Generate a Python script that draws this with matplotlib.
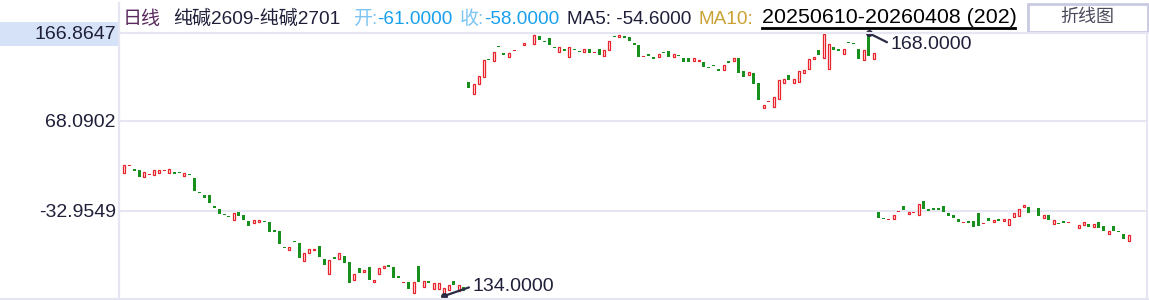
import matplotlib
matplotlib.use("Agg")
import matplotlib.pyplot as plt
from matplotlib.patches import Rectangle
from matplotlib.lines import Line2D
import numpy as np

plt.rcParams['font.family'] = ['Liberation Sans', 'Noto Sans CJK SC', 'DejaVu Sans']

# spread 纯碱2609-纯碱2701, daily bars, open / close only
opens = [
    # first block
    9.8, 17.6, 13.4, 12.8, 4.6, 7.5, 7.5, 9.8, 12.0, 9.8,
    10.2, 9.6, 6.4, 7.7, 3.8, -12.9, -15.6, -15.3, -27.7, -31.0,
    -37.6, -39.9, -43.1, -34.4, -37.8, -44.2, -47.1, -45.3, -45.2, -45.7,
    -54.7, -55.8, -74.7, -76.8, -67.7, -69.3, -89.2, -80.9, -77.2, -72.7,
    -87.3, -104.5, -85.0, -86.9, -83.9, -90.7, -111.2, -97.4, -102.2, -96.3,
    -112.8, -104.5, -97.7, -94.0, -96.3, -106.4, -114.0, -113.1, -125.9, -95.2,
    -119.1, -112.0, -121.4, -121.4, -128.9, -122.5, -112.0, -123.6, -119.1,
    # second block
    111.8, 97.9, 109.2, 117.7, 137.3, 135.4, 152.0, 144.4, 139.5, 146.5,
    148.4, 153.0, 158.5, 154.8, 163.5, 156.9, 160.9, 150.2, 145.2, 148.9,
    139.5, 147.9, 145.7, 145.2, 148.9, 144.7, 148.5, 140.7, 147.4, 162.5,
    162.0, 163.5, 162.0, 156.0, 153.4, 140.2, 143.6, 140.2, 139.5, 145.5,
    146.6, 140.2, 141.2, 138.7, 138.7, 135.0, 135.0, 134.2, 128.3, 131.2,
    126.7, 124.9, 135.4, 135.0, 138.4, 123.8, 119.3, 121.5, 110.6, 82.2,
    89.1, 83.3, 92.6, 110.3, 119.3, 111.0, 111.4, 121.5, 126.0, 137.3,
    147.7, 138.4, 126.0, 150.8, 149.2, 142.9, 155.8, 155.3, 148.5, 136.5,
    166.6, 137.3,
    # third block
    -34.4, -42.1, -43.1, -42.0, -34.1, -27.7, -36.3, -35.3, -37.5, -22.4,
    -31.0, -29.9, -29.9, -27.7, -35.6, -37.8, -42.3, -46.5, -44.5, -44.5,
    -35.6, -47.6, -41.2, -45.3, -42.3, -44.5, -49.4, -39.7, -39.3, -28.5,
    -28.8, -33.8, -29.9, -40.8, -37.8, -48.3, -47.4, -44.5, -46.5, -45.0,
    -52.1, -48.7, -47.6, -51.0, -45.7, -50.2, -58.8, -50.2, -56.8, -59.2,
    -66.7,
]
closes = [
    18.4, 18.1, 12.0, 5.3, 10.2, 8.0, 12.5, 12.5, 12.5, 13.6,
    8.6, 9.1, 9.1, 7.2, -10.5, -13.4, -18.3, -24.0, -29.6, -36.3,
    -38.1, -40.4, -35.6, -38.6, -43.4, -49.8, -43.4, -43.8, -45.7, -56.6,
    -56.9, -70.1, -75.2, -74.1, -68.2, -85.8, -80.9, -76.0, -75.7, -84.7,
    -93.7, -88.7, -86.9, -80.9, -91.4, -113.9, -104.5, -102.7, -99.6, -110.6,
    -110.9, -97.7, -95.2, -96.6, -108.3, -108.3, -113.5, -120.7, -113.5, -113.5,
    -112.4, -114.6, -113.9, -114.6, -119.9, -116.5, -116.2, -116.9, -123.6,
    105.4, 109.2, 118.2, 136.2, 136.8, 145.2, 151.5, 141.8, 144.4, 147.0,
    148.9, 155.3, 159.0, 165.0, 159.3, 156.4, 153.7, 149.7, 150.8, 147.0,
    150.8, 147.4, 145.2, 149.2, 144.7, 145.2, 141.8, 147.4, 157.9, 162.0,
    164.3, 160.9, 157.5, 153.7, 139.5, 140.7, 140.7, 137.3, 143.2, 144.0,
    139.5, 143.2, 140.7, 133.9, 133.9, 138.4, 136.5, 129.0, 127.8, 129.4,
    124.5, 130.5, 132.8, 138.7, 122.2, 117.0, 123.3, 109.8, 91.9, 85.9,
    89.6, 94.9, 114.3, 115.5, 114.3, 114.8, 124.1, 125.3, 137.3, 139.9,
    142.5, 166.0, 154.5, 148.1, 147.0, 148.5, 155.3, 154.8, 138.0, 147.7,
    140.7, 144.0,
    -41.2, -42.6, -42.6, -38.1, -33.6, -32.2, -34.8, -34.8, -25.4, -31.0,
    -33.0, -31.8, -31.8, -34.4, -38.6, -41.2, -45.7, -46.0, -46.5, -51.0,
    -49.8, -47.1, -44.2, -43.4, -44.5, -42.6, -42.6, -35.6, -31.0, -26.6,
    -35.2, -33.3, -38.6, -37.8, -43.4, -43.4, -47.9, -46.5, -46.0, -44.5,
    -49.0, -46.0, -51.0, -47.9, -52.1, -55.5, -55.8, -55.5, -57.3, -64.5,
    -60.6,
]

y_ticks = [166.8647, 68.0902, -32.9549]
hi_label = 168.0
lo_label = 134.0

title_period = "日线"
title_pair = "纯碱2609-纯碱2701"
last_open = -61.0
last_close = -58.0
ma5 = -54.6
date_range = "20250610-20260408 (202)"
button_text = "折线图"

W, H = 1149, 300
RED = '#e8232c'
GREEN = '#17901d'
GRID = '#e6e6f2'
INK = '#1f1f3a'


def fx(px):
    return px / W


def fy(py):
    return 1 - py / H


fig = plt.figure(figsize=(W / 100, H / 100), dpi=100)
ax = fig.add_axes([fx(120), fy(298), (1147 - 120) / W, (298 - 33) / H])

o = np.array(opens)
c = np.array(closes)
x = np.arange(len(o))
lo = np.minimum(o, c)
h = np.abs(c - o)
up = c >= o
flat = h < 1.5

# green (down) bars, filled
dn = ~up
ax.bar(x[dn], np.maximum(h[dn], 1.0), bottom=lo[dn], width=0.6,
       color=GREEN, linewidth=0, zorder=3)
# red (up) bars, hollow
hol = up & ~flat
ax.bar(x[hol], h[hol], bottom=lo[hol], width=0.42, facecolor='white',
       edgecolor=RED, linewidth=0.9, zorder=3)
# red near-flat bars drawn as short dashes
fl = up & flat
ax.bar(x[fl], np.maximum(h[fl], 1.0), bottom=lo[fl], width=0.6,
       color=RED, linewidth=0, zorder=3)

ax.set_xlim(-0.8, 204.6)
ax.set_ylim(-131.13, 166.8647)
ax.set_yticks(y_ticks)
ax.set_yticklabels([f"{v:.4f}" for v in y_ticks])
ax.set_xticks([])
ax.tick_params(axis='y', length=0, pad=3, labelsize=14, labelcolor=INK)
ax.grid(axis='y', color=GRID, linewidth=1.5, zorder=0)
for s in ['top', 'bottom']:
    ax.spines[s].set_visible(False)
ax.spines['left'].set_visible(False)
ax.spines['right'].set_color(GRID)
ax.spines['right'].set_linewidth(1.5)

# max / min markers
i_hi = int(np.argmax(np.maximum(o, c)))
i_lo = int(np.argmin(lo))
for idx, yv, txt, off in [(i_hi, max(o[i_hi], c[i_hi]), hi_label, (22, -11)),
                          (i_lo, lo[i_lo], lo_label, (29, 10))]:
    ax.annotate(f"{txt:.4f}", xy=(idx, yv), xytext=off, textcoords='offset pixels',
                fontsize=14, color=INK, va='center', ha='left',
                annotation_clip=False,
                arrowprops=dict(arrowstyle='-', color='#2a2a45', lw=1.6,
                                shrinkA=1, shrinkB=0, relpos=(0, 0.5)))
    ax.plot([idx], [yv], marker='o', ms=4, color='#2a2a45', zorder=5, clip_on=False)

# frame lines outside the plot
fig.add_artist(Line2D([fx(119), fx(119)], [fy(3), fy(300)], color=GRID, lw=1.6))
fig.add_artist(Line2D([0, 1], [fy(298.8), fy(298.8)], color=GRID, lw=1.6))
fig.add_artist(Line2D([fx(120), 1], [fy(33), fy(33)], color=GRID, lw=1.5))
fig.patches.append(Rectangle((0, fy(46)), fx(118), 24 / H, transform=fig.transFigure,
                             facecolor='#d6e2f7', edgecolor='none', zorder=-1))

# header line
base = fy(24)
fig.text(fx(123), base, title_period, fontsize=13.7, color='#5a2a5e', va='baseline')
fig.text(fx(173), base, title_pair, fontsize=13.7, color=INK, va='baseline')
fig.text(fx(353), base, "开:", fontsize=13.7, color='#7cc4f2', va='baseline')
fig.text(fx(377), base, f"{last_open:.4f}", fontsize=13.7, color='#18a0ee', va='baseline')
fig.text(fx(460), base, "收:", fontsize=13.7, color='#7cc4f2', va='baseline')
fig.text(fx(484), base, f"{last_close:.4f}", fontsize=13.7, color='#18a0ee', va='baseline')
fig.text(fx(567), base, f"MA5: {ma5:.4f}", fontsize=13.7, color=INK, va='baseline')
fig.text(fx(698), base, "MA10:", fontsize=13.7, color='#c9a233', va='baseline')
fig.text(fx(762), fy(23), date_range, fontsize=15.4, color='black', va='baseline')
fig.add_artist(Line2D([fx(762), fx(1015)], [fy(28), fy(28)], color='black', lw=2))

fig.patches.append(Rectangle((fx(1028), fy(32)), (1148 - 1028) / W, 28 / H,
                             transform=fig.transFigure, facecolor='white',
                             edgecolor='#c9cae2', linewidth=2))
fig.text(fx(1087), fy(17), button_text, fontsize=13, color='#4a4a5c',
         ha='center', va='center')

fig.savefig("out.png", dpi=100)
